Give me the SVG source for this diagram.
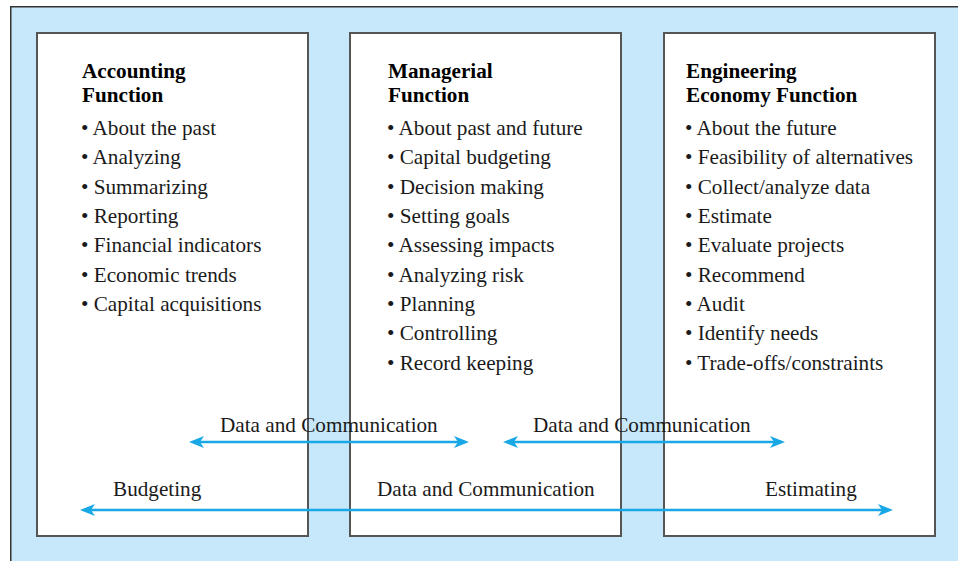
<svg xmlns="http://www.w3.org/2000/svg" width="958" height="561" viewBox="0 0 958 561">
<defs>
<style>
.box{fill:#ffffff;stroke:#555555;stroke-width:2}
.t{font-family:"Liberation Serif","Times New Roman",serif;font-size:21.2px;fill:#1a1a1a}
.b{font-weight:bold;fill:#000}
.con{stroke:#18a8e6;stroke-width:2.5;fill:none;marker-start:url(#ah);marker-end:url(#ah)}
</style>
<marker id="ah" viewBox="-13 -7 18 14" refX="0" refY="0" markerWidth="18" markerHeight="14" markerUnits="userSpaceOnUse" orient="auto-start-reverse">
<path d="M4,0 L-11,-6 L-7,0 L-11,6 Z" fill="#18a8e6"/>
</marker>
</defs>
<rect x="10" y="6" width="948" height="555" fill="#c6e8fa"/>
<path d="M10.75,561 V6.75 H958" fill="none" stroke="#333" stroke-width="1.5"/>

<g id="accounting">
<rect class="box" x="37" y="33" width="271" height="503"/>
<text class="t b" x="82" y="78">Accounting</text>
<text class="t b" x="82" y="102">Function</text>
<text class="t" x="81" y="135">• About the past</text>
<text class="t" x="81" y="164.3">• Analyzing</text>
<text class="t" x="81" y="193.6">• Summarizing</text>
<text class="t" x="81" y="223">• Reporting</text>
<text class="t" x="81" y="252.3">• Financial indicators</text>
<text class="t" x="81" y="281.6">• Economic trends</text>
<text class="t" x="81" y="311">• Capital acquisitions</text>
</g>

<g id="managerial">
<rect class="box" x="350" y="33" width="271" height="503"/>
<text class="t b" x="388" y="78">Managerial</text>
<text class="t b" x="388" y="102">Function</text>
<text class="t" x="387" y="135">• About past and future</text>
<text class="t" x="387" y="164.3">• Capital budgeting</text>
<text class="t" x="387" y="193.6">• Decision making</text>
<text class="t" x="387" y="223">• Setting goals</text>
<text class="t" x="387" y="252.3">• Assessing impacts</text>
<text class="t" x="387" y="281.6">• Analyzing risk</text>
<text class="t" x="387" y="311">• Planning</text>
<text class="t" x="387" y="340.3">• Controlling</text>
<text class="t" x="387" y="369.6">• Record keeping</text>
</g>

<g id="engineering">
<rect class="box" x="664" y="33" width="271" height="503"/>
<text class="t b" x="686" y="78">Engineering</text>
<text class="t b" x="686" y="102">Economy Function</text>
<text class="t" x="685" y="135">• About the future</text>
<text class="t" x="685" y="164.3">• Feasibility of alternatives</text>
<text class="t" x="685" y="193.6">• Collect/analyze data</text>
<text class="t" x="685" y="223">• Estimate</text>
<text class="t" x="685" y="252.3">• Evaluate projects</text>
<text class="t" x="685" y="281.6">• Recommend</text>
<text class="t" x="685" y="311">• Audit</text>
<text class="t" x="685" y="340.3">• Identify needs</text>
<text class="t" x="685" y="369.6">• Trade-offs/constraints</text>
</g>

<g id="connectors">
<line class="con" x1="193" y1="442" x2="465" y2="442"/>
<line class="con" x1="507" y1="442" x2="781" y2="442"/>
<line class="con" x1="84" y1="510" x2="889" y2="510"/>
<text class="t" x="220" y="432">Data and Communication</text>
<text class="t" x="533" y="432">Data and Communication</text>
<text class="t" x="113" y="496">Budgeting</text>
<text class="t" x="377" y="496">Data and Communication</text>
<text class="t" x="765" y="496">Estimating</text>
</g>
</svg>
